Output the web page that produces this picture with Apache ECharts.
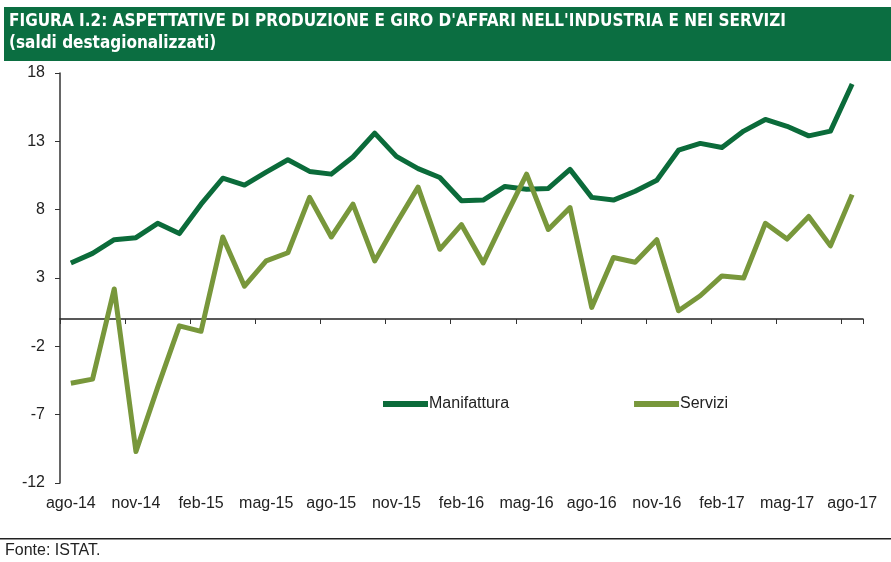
<!DOCTYPE html>
<html>
<head>
<meta charset="utf-8">
<title>Aspettative di produzione</title>
<script src="https://cdn.jsdelivr.net/npm/echarts@6/dist/echarts.min.js"></script>
<style>
  html, body { margin: 0; padding: 0; background: #ffffff; }
  #chart { width: 891px; height: 562px; }
</style>
</head>
<body>
<div id="chart"></div>
<script>
  // mesi da ago-14 a ago-17
  var months = ['ago-14','set-14','ott-14','nov-14','dic-14','gen-15','feb-15','mar-15','apr-15','mag-15','giu-15','lug-15',
                'ago-15','set-15','ott-15','nov-15','dic-15','gen-16','feb-16','mar-16','apr-16','mag-16','giu-16','lug-16',
                'ago-16','set-16','ott-16','nov-16','dic-16','gen-17','feb-17','mar-17','apr-17','mag-17','giu-17','lug-17','ago-17'];

  var manifattura = [4.1, 4.8, 5.8, 5.95, 7.0, 6.25, 8.4, 10.3, 9.8, 10.75, 11.65, 10.8,
                     10.6, 11.85, 13.6, 11.9, 11.0, 10.35, 8.65, 8.7, 9.7, 9.5, 9.55, 10.95,
                     8.9, 8.7, 9.35, 10.15, 12.35, 12.85, 12.55, 13.75, 14.6, 14.1, 13.4, 13.75, 17.2];

  var servizi = [-4.7, -4.4, 2.2, -9.7, -5.0, -0.5, -0.9, 6.0, 2.4, 4.25, 4.85, 8.9,
                 6.0, 8.4, 4.25, 7.0, 9.65, 5.1, 6.9, 4.1, 7.4, 10.6, 6.55, 8.15,
                 0.85, 4.5, 4.15, 5.8, 0.6, 1.7, 3.15, 3.0, 7.0, 5.85, 7.5, 5.35, 9.1];

  var yTicks = [18, 13, 8, 3, -2, -7, -12];

  var chart = echarts.init(document.getElementById('chart'));

  var titleFont = 'bold 17px "DejaVu Sans Condensed", sans-serif';

  var option = {
    backgroundColor: '#ffffff',
    animation: false,
    textStyle: { fontFamily: 'Liberation Sans, Arial, sans-serif' },
    graphic: [
      { type: 'rect', left: 4, top: 7, shape: { width: 887, height: 54 }, style: { fill: '#0b6e41' } },
      { type: 'text', left: 9, top: 13,
        style: { text: "FIGURA I.2: ASPETTATIVE DI PRODUZIONE E GIRO D'AFFARI NELL'INDUSTRIA E NEI SERVIZI",
                 fill: '#ffffff', font: titleFont } },
      { type: 'text', left: 9, top: 35,
        style: { text: '(saldi destagionalizzati)', fill: '#ffffff', font: titleFont } },
      { type: 'rect', left: 0, top: 538, shape: { width: 891, height: 1.5 }, style: { fill: '#222222' } },
      { type: 'text', left: 5, top: 543,
        style: { text: 'Fonte: ISTAT.', fill: '#222222', font: '16px "Liberation Sans", sans-serif' } }
    ],
    grid: { left: 60, right: 28, top: 73, bottom: 79 },
    legend: {
      left: 383, top: 396, padding: 0,
      itemWidth: 45, itemHeight: 6, itemGap: 125,
      icon: 'rect',
      textStyle: { fontSize: 16, color: '#222222', padding: [0, 0, 0, -4] },
      data: ['Manifattura', 'Servizi']
    },
    xAxis: [
      {
        type: 'category', data: months, boundaryGap: true,
        axisLine: { show: false, onZero: false },
        axisTick: { show: false },
        axisLabel: { interval: 2, color: '#222222', fontSize: 16, margin: 13 }
      },
      {
        type: 'category', data: months, boundaryGap: true, position: 'bottom',
        axisLine: { show: true, onZero: true, lineStyle: { color: '#222222', width: 1.5 } },
        axisTick: { show: true, interval: 2, length: 5, lineStyle: { color: '#333333' } },
        axisLabel: { show: false }
      }
    ],
    yAxis: {
      type: 'value', min: -12, max: 18,
      axisLine: { show: true, lineStyle: { color: '#333333', width: 1.5 } },
      axisTick: { show: true, length: 5, customValues: yTicks, lineStyle: { color: '#333333' } },
      axisLabel: { customValues: yTicks, color: '#222222', fontSize: 16, margin: 15 },
      splitLine: { show: false }
    },
    series: [
      {
        name: 'Manifattura', type: 'line', data: manifattura, xAxisIndex: 0,
        symbol: 'none', color: '#0b6b3a',
        lineStyle: { width: 5, color: '#0b6b3a', join: 'round' }
      },
      {
        name: 'Servizi', type: 'line', data: servizi, xAxisIndex: 0,
        symbol: 'none', color: '#78973b',
        lineStyle: { width: 5, color: '#78973b', join: 'round' }
      }
    ]
  };

  chart.setOption(option);
</script>
</body>
</html>
